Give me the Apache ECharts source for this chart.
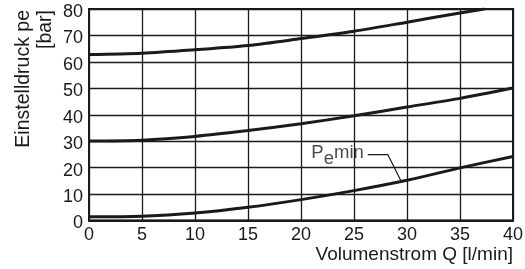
<!DOCTYPE html>
<html>
<head>
<meta charset="utf-8">
<script src="https://cdn.jsdelivr.net/npm/echarts@6/dist/echarts.min.js"></script>
<style>
  html, body { margin: 0; padding: 0; background: #fff; }
  #chart { width: 525px; height: 269px; }
</style>
</head>
<body>
<div id="chart"></div>
<script>
  // Volumenstrom Q [l/min] (x-Werte der Kurven)
  const flowQ = [0, 5, 10, 15, 20, 25, 30, 35, 40];
  const flowQTop = [0, 5, 10, 15, 20, 25, 30, 35, 37.3];
  // Einstelldruck pe [bar]
  const pressureTop = [62.8, 63.3, 64.6, 66.2, 68.8, 71.6, 75.0, 78.5, 80];
  const pressureMid = [30.1, 30.4, 31.8, 34.0, 36.6, 39.6, 42.9, 46.2, 50.1];
  const pressureMin = [1.4, 1.6, 2.8, 5.0, 7.9, 11.3, 15.2, 19.9, 24.2];
  // Hinweislinie fuer "Pemin"
  const leaderQ = [26.3, 28.2, 29.4];
  const leaderP = [24.9, 24.9, 15.2];
  const xTicks = [0, 5, 10, 15, 20, 25, 30, 35, 40];
  const yTicks = [0, 10, 20, 30, 40, 50, 60, 70, 80];

  const font = 'Liberation Sans, Arial, sans-serif';
  const ink = '#1a1a1a';

  function pairs(xs, ys) {
    return xs.map((x, i) => [x, ys[i]]);
  }

  let chartDom = document.getElementById('chart');
  let myChart = echarts.init(chartDom);
  let option;

  option = {
    animation: false,
    grid: {
      left: 89, right: 12, top: 9, height: 211.5,
      outerBoundsMode: 'none', containLabel: false,
      show: true, borderColor: ink, borderWidth: 2, backgroundColor: 'transparent'
    },
    xAxis: {
      type: 'value',
      min: xTicks[0], max: xTicks[xTicks.length - 1], interval: 5,
      axisLine: { show: true, lineStyle: { color: ink, width: 2 } },
      axisTick: { show: false },
      splitLine: { show: true, lineStyle: { color: ink, width: 1.3 } },
      axisLabel: { color: ink, fontFamily: font, fontSize: 18, margin: 6 }
    },
    yAxis: {
      type: 'value',
      min: yTicks[0], max: yTicks[yTicks.length - 1], interval: 10,
      axisLine: { show: true, lineStyle: { color: ink, width: 2 } },
      axisTick: { show: false },
      splitLine: { show: true, lineStyle: { color: ink, width: 1.3 } },
      axisLabel: {
        color: ink, fontFamily: font, fontSize: 18, margin: 6,
        verticalAlign: 'top', lineHeight: 6
      }
    },
    graphic: [
      {
        type: 'text',
        x: 13, y: 10,
        rotation: Math.PI / 2,
        style: {
          text: 'Einstelldruck pe\n[bar]',
          fill: ink,
          font: '19.5px ' + font,
          lineHeight: 22,
          align: 'right',
          verticalAlign: 'top'
        }
      },
      {
        type: 'text',
        x: 513, y: 255,
        style: {
          text: 'Volumenstrom Q [l/min]',
          fill: ink,
          font: '19px ' + font,
          align: 'right',
          verticalAlign: 'middle'
        }
      }
    ],
    series: [
      {
        type: 'line', data: pairs(flowQTop, pressureTop), smooth: 0.3,
        showSymbol: false, lineStyle: { color: ink, width: 3 }
      },
      {
        type: 'line', data: pairs(flowQ, pressureMid), smooth: 0.3,
        showSymbol: false, lineStyle: { color: ink, width: 3 }
      },
      {
        type: 'line', data: pairs(flowQ, pressureMin), smooth: 0.3,
        showSymbol: false, lineStyle: { color: ink, width: 3 }
      },
      {
        type: 'line', data: pairs(leaderQ, leaderP),
        showSymbol: false, lineStyle: { color: ink, width: 1.2 }
      },
      {
        type: 'scatter', data: [[leaderQ[0], leaderP[0]]], symbolSize: 0,
        label: {
          show: true, position: 'left', distance: 4,
          formatter: '{a|P}{b|e}{a|min}',
          rich: {
            a: { color: ink, fontFamily: font, fontSize: 18.5, lineHeight: 18, padding: [0, 0, 3, 0] },
            b: { color: ink, fontFamily: font, fontSize: 18.5, lineHeight: 18, padding: [9, 0, 0, 0] }
          }
        }
      }
    ]
  };
  option && myChart.setOption(option);
</script>
</body>
</html>
